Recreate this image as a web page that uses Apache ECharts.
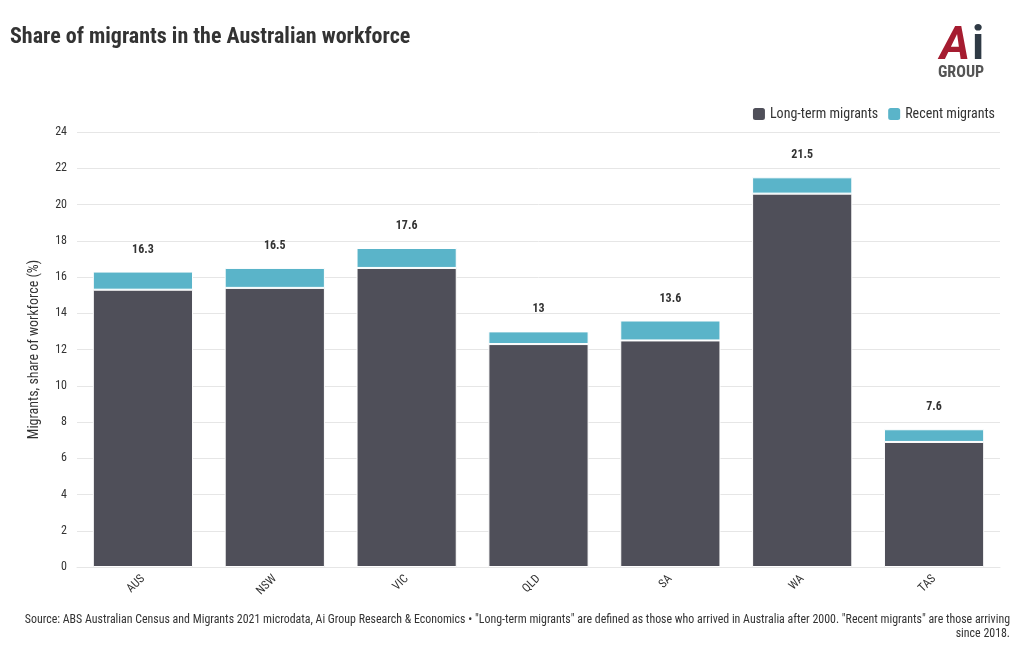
<!DOCTYPE html>
<html><head><meta charset="utf-8">
<script src="https://cdn.jsdelivr.net/npm/echarts@6/dist/echarts.min.js"></script>
<style>html,body{margin:0;padding:0;background:#fff}#c{width:1020px;height:650px}</style>
</head><body><div id="c"></div>
<script>
const categories = ['AUS','NSW','VIC','QLD','SA','WA','TAS'];
const longTerm = [15.3, 15.4, 16.5, 12.3, 12.5, 20.6, 6.9];
const recent = [1.0, 1.1, 1.1, 0.7, 1.1, 0.9, 0.7];
const totals = [16.3, 16.5, 17.6, 13, 13.6, 21.5, 7.6];
const yTicks = [0,2,4,6,8,10,12,14,16,18,20,22,24];

const FONT = '"Roboto Condensed","Liberation Sans Narrow",Roboto,sans-serif';
const chart = echarts.init(document.getElementById('c'));
chart.setOption({
  animation:false,
  textStyle:{fontFamily:FONT},
  title:{text:'Share of migrants in the Australian workforce',left:10,top:26,padding:0,
    textStyle:{fontFamily:FONT,fontSize:22,fontWeight:'bold',color:'#333'}},
  legend:{right:20,top:101,itemWidth:14,itemHeight:14,itemGap:8,icon:'roundRect',
    textStyle:{fontFamily:FONT,fontSize:14,color:'#333',padding:[0,0,0,-1]},
    data:['Long-term migrants','Recent migrants']},
  grid:{left:77,right:20,top:132,bottom:83,containLabel:false},
  xAxis:{type:'category',data:categories,
    axisLine:{lineStyle:{color:'#e6e6e6'}},axisTick:{show:false},
    axisLabel:{rotate:45,color:'#333',fontSize:12,margin:10,fontFamily:FONT}},
  yAxis:{type:'value',min:yTicks[0],max:yTicks[yTicks.length-1],interval:2,
    name:'Migrants, share of workforce (%)',nameLocation:'middle',nameGap:36,
    nameTextStyle:{fontSize:14,color:'#333',fontFamily:FONT},
    axisLabel:{color:'#333',fontSize:12,fontFamily:FONT,margin:10},
    splitLine:{lineStyle:{color:'#e6e6e6'}}},
  series:[
    {name:'Long-term migrants',type:'bar',stack:'a',data:longTerm,barCategoryGap:'24%',
      itemStyle:{color:'#4f4f59',borderColor:'#fff',borderWidth:1}},
    {name:'Recent migrants',type:'bar',stack:'a',data:recent,
      itemStyle:{color:'#5ab4c9',borderColor:'#fff',borderWidth:1},
      label:{show:true,position:'top',distance:16,color:'#333',fontWeight:'bold',fontSize:12,fontFamily:FONT,
        formatter:p=>String(totals[p.dataIndex])}}
  ],
  graphic:[
    {type:'text',left:940,top:24,style:{text:'A',fontSize:46,fontWeight:'bold',fontStyle:'italic',fill:'#a51c30',fontFamily:'Roboto'}},
    {type:'text',left:972,top:24,style:{text:'i',fontSize:46,fontWeight:'bold',fill:'#2f3a45',fontFamily:'Roboto'}},
    {type:'text',left:938,top:65,style:{text:'GROUP',fontSize:16,fontWeight:'bold',fill:'#555',fontFamily:'Roboto Condensed'}},
    {type:'text',right:10,top:614,style:{text:'Source: ABS Australian Census and Migrants 2021 microdata, Ai Group Research & Economics \u2022 "Long-term migrants" are defined as those who arrived in Australia after 2000. "Recent migrants" are those arriving',
      fontSize:11.9,fill:'#333',fontFamily:FONT}},
    {type:'text',right:10,top:628,style:{text:'since 2018.',fontSize:11.9,fill:'#333',fontFamily:FONT}}
  ]
});
</script></body></html>
